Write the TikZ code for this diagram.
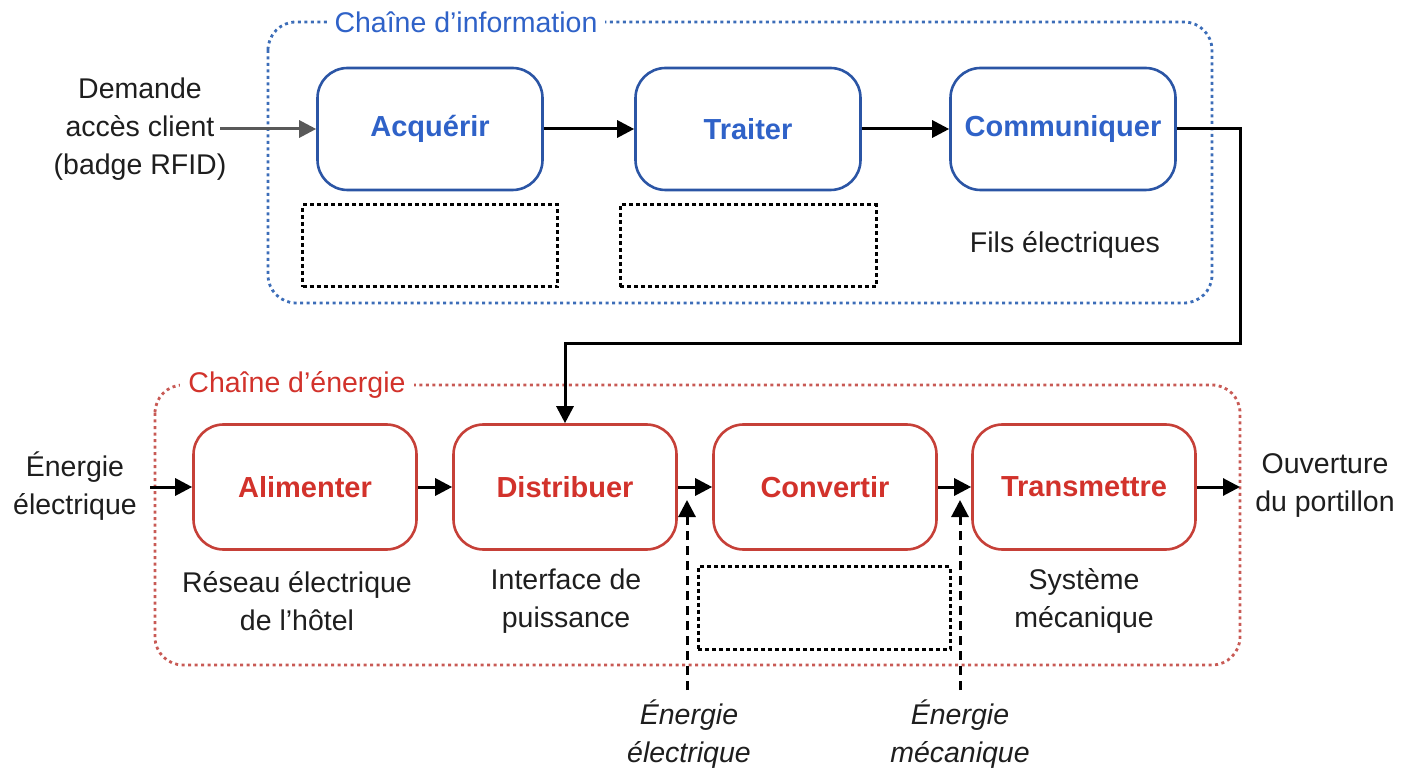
\documentclass[tikz,border=0pt]{standalone}
\usepackage{fontspec}
\setmainfont{Liberation Sans}
\usetikzlibrary{arrows.meta}
\definecolor{infoblue}{HTML}{2B55A5}
\definecolor{infotext}{HTML}{2F62C8}
\definecolor{infodot}{HTML}{3C6DB8}
\definecolor{nrjred}{HTML}{C64038}
\definecolor{nrjtext}{HTML}{D2322B}
\definecolor{nrjdot}{HTML}{C85A55}
\definecolor{ink}{HTML}{1E1E1E}
\tikzset{
  x=1pt, y=-1pt,
  every node/.style={font=\fontsize{28.5}{38}\selectfont, align=center, inner sep=0pt, text=ink},
  infobox/.style={draw=infoblue, line width=2.6pt, rounded corners=30pt, minimum width=225pt, minimum height=122pt, text=infotext, font=\fontsize{29}{38}\selectfont\bfseries},
  nrjbox/.style={draw=nrjred, line width=2.6pt, rounded corners=30pt, minimum width=223pt, minimum height=125pt, text=nrjtext, font=\fontsize{29}{38}\selectfont\bfseries},
  blank/.style={draw=black, line width=3pt, dash pattern=on 4pt off 3pt},
  arr/.style={line width=3pt, -{Triangle[length=17pt,width=17pt]}},
  darr/.style={arr, dash pattern=on 9pt off 6pt},
  ttl/.style={fill=white, inner xsep=8pt, inner ysep=2pt},
}
\begin{document}
\begin{tikzpicture}
\useasboundingbox (0,0) rectangle (1411,775);
% chains
\draw[infodot, line width=2.8pt, dash pattern=on 3pt off 3.5pt, rounded corners=28pt] (268,22) rectangle (1212,303);
\node[ttl, text=infotext] (tinfo) at (466,22) {Chaîne d’information};
\draw[nrjdot, line width=2.8pt, dash pattern=on 3pt off 3.5pt, rounded corners=28pt] (155,385) rectangle (1240,665);
\node[ttl, text=nrjtext] (tnrj) at (297,385) {Chaîne d’énergie};
% information chain
\node[infobox] (acq) at (430,129) {Acquérir};
\node[infobox] (trait) at (748,129) {Traiter};
\node[infobox] (comm) at (1063,129) {Communiquer};
\node[blank, minimum width=255pt, minimum height=82pt] (b1) at (430,246) {};
\node[blank, minimum width=256pt, minimum height=82pt] (b2) at (748,246) {};
\node (fils) at (1065,245) {Fils électriques};
\node (dem) at (140,129) {Demande\\accès client\\(badge RFID)};
\coordinate (demout) at (220,129);
\draw[arr, draw=black!65, -{Triangle[length=17pt,width=17pt,fill=black!65]}] (demout) -- (acq.west);
\draw[arr] (acq) -- (trait);
\draw[arr] (trait) -- (comm);
% energy chain
\node[nrjbox] (alim) at (305,487) {Alimenter};
\node[nrjbox] (dist) at (565,487) {Distribuer};
\node[nrjbox] (conv) at (825,487) {Convertir};
\node[nrjbox] (trans) at (1084,487) {Transmettre};
\coordinate (c1) at (1240,129);
\coordinate (c2) at (1240,344);
\coordinate (c3) at (565,344);
\draw[arr, rounded corners=0pt] (comm.east) -- (c1) -- (c2) -- (c3) -- (dist.north);
\node (ein) at (75,486) {Énergie\\électrique};
\coordinate (einout) at (150,487);
\draw[arr] (einout) -- (alim.west);
\draw[arr] (alim) -- (dist);
\draw[arr] (dist) -- (conv);
\draw[arr] (conv) -- (trans);
\coordinate (outend) at (1240,487);
\draw[arr] (trans.east) -- (outend);
\node (out) at (1325,486) {Ouverture\\du portillon};
\node (l1) at (297,601) {Réseau électrique\\de l’hôtel};
\node (l2) at (566,601) {Interface de\\puissance};
\node[blank, minimum width=252pt, minimum height=83pt] (b3) at (824,608) {};
\node (l3) at (1084,601) {Système\\mécanique};
% external energies
\coordinate (e1s) at (687,690);
\coordinate (e1e) at (687,500);
\coordinate (e2s) at (960,690);
\coordinate (e2e) at (960,500);
\draw[darr] (e1s) -- (e1e);
\draw[darr] (e2s) -- (e2e);
\node[font=\fontsize{28.5}{38}\selectfont\itshape] (ee) at (689,734) {Énergie\\électrique};
\node[font=\fontsize{28.5}{38}\selectfont\itshape] (em) at (960,734) {Énergie\\mécanique};
\end{tikzpicture}
\end{document}
